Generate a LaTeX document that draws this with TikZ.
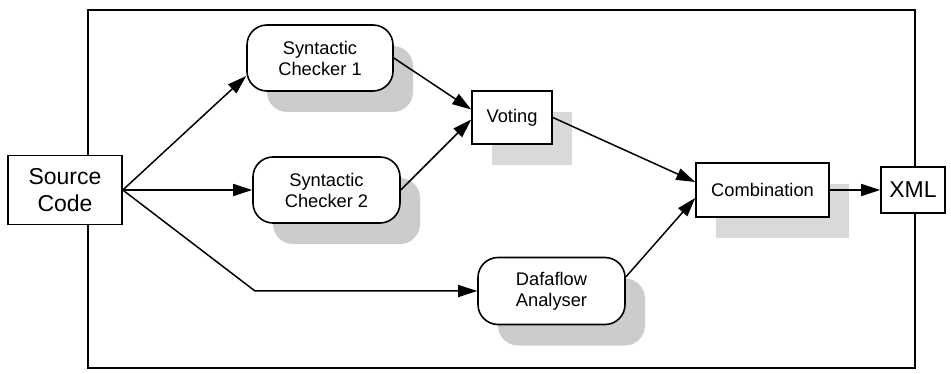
\documentclass[tikz,border=0pt]{standalone}
\usepackage{fontspec}
\setmainfont{Liberation Sans}
\usetikzlibrary{arrows.meta,shadows}
\definecolor{shaderound}{HTML}{CCCCCC}
\definecolor{shadebox}{HTML}{D9D9D9}
\begin{document}
\begin{tikzpicture}[x=1pt,y=-1pt,
  every node/.style={align=center,inner sep=0pt},
  smallfont/.style={font=\fontsize{18.3}{21}\selectfont},
  bigfont/.style={font=\fontsize{23}{27.5}\selectfont},
  roundbox/.style={smallfont,draw,line width=1.6pt,fill=white,rounded corners=20pt,
    copy shadow={shadow xshift=20pt,shadow yshift=-21pt,fill=shaderound,draw=none}},
  sqbox/.style={smallfont,draw,line width=1.6pt,fill=white,
    copy shadow={shadow xshift=20pt,shadow yshift=-21pt,fill=shadebox,draw=none}},
  plainbox/.style={bigfont,draw,line width=1.6pt,fill=white},
  conn/.style={line width=1.5pt,-{Triangle[length=19pt,width=12pt]}}]
\useasboundingbox (0,0) rectangle (951,374);
% outer frame
\draw[line width=1.4pt] (88,10) rectangle (915,368);
% blocks
\node[plainbox,minimum width=114pt,minimum height=69pt] (src) at (65,190) {Source\\Code};
\node[roundbox,minimum width=146pt,minimum height=66pt] (c1) at (320,58) {Syntactic\\Checker 1};
\node[roundbox,minimum width=147pt,minimum height=66pt] (c2) at (326.5,190) {Syntactic\\Checker 2};
\node[sqbox,minimum width=80pt,minimum height=53pt] (vote) at (512,117.5) {Voting};
\node[roundbox,minimum width=147pt,minimum height=67pt] (df) at (551.5,291) {Dafaflow\\Analyser};
\node[sqbox,minimum width=133pt,minimum height=54pt] (comb) at (762.5,190) {Combination};
\node[plainbox,minimum width=64pt,minimum height=46pt] (xml) at (913,190) {XML};
\coordinate (bend) at (255,291);
% connectors
\draw[conn] (src.east) -- ([yshift=-18pt]c1.west);
\draw[conn] (src.east) -- (c2.west);
\draw[conn] (src.east) -- (bend) -- (df.west);
\draw[conn] (c1.east) -- ([yshift=8pt]vote.west);
\draw[conn] (c2.east) -- ([yshift=-2pt]vote.west);
\draw[conn] (vote.east) -- ([yshift=8pt]comb.west);
\draw[conn] ([yshift=14pt]df.east) -- ([yshift=-8pt]comb.west);
\draw[conn] (comb.east) -- (xml.west);
\end{tikzpicture}
\end{document}
